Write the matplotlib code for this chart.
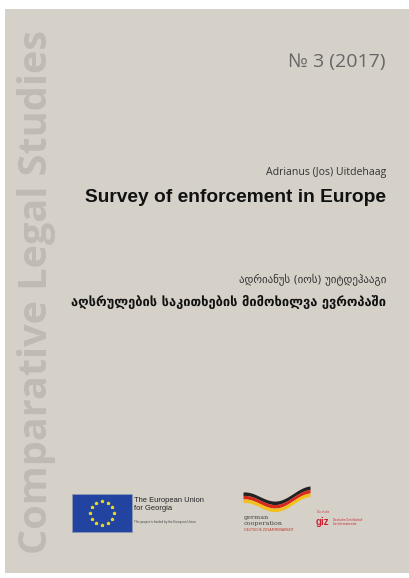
import numpy as np
import matplotlib
matplotlib.use('Agg')
import matplotlib.pyplot as plt
from matplotlib.patches import Rectangle

# Cover texts
series_title = 'Comparative Legal Studies'
issue_label = '№ 3 (2017)'
author_en = 'Adrianus (Jos) Uitdehaag'
title_en = 'Survey of enforcement in Europe'
author_ka = 'ადრიანუს (იოს) უიტდეჰააგი'
title_ka = 'აღსრულების საკითხების მიმოხილვა ევროპაში'
eu_lines = ['The European Union', 'for Georgia']
eu_small = 'This project is funded by the European Union'
german_lines = ['german', 'cooperation']
german_small = 'DEUTSCHE ZUSAMMENARBEIT'
giz_label = 'giz'
giz_small = ['Deutsche Gesellschaft', 'für Internationale', 'Zusammenarbeit (GIZ) GmbH']

page_bg = '#d5d1c9'
spine_text = '#bfbbb3'

fig = plt.figure(figsize=(4.09, 5.78), dpi=100)
fig.patch.set_facecolor('white')
ax = fig.add_axes([0, 0, 1, 1])
ax.set_xlim(0, 409)
ax.set_ylim(578, 0)
ax.axis('off')

# page
ax.add_patch(Rectangle((5, 9), 404, 564, facecolor=page_bg, edgecolor='none'))

# vertical series title
ax.text(37, 292, series_title, rotation=90, ha='center', va='center',
        fontsize=28.5, fontweight='bold', family='Open Sans', color=spine_text)

# right side titles
ax.text(386, 62, issue_label, ha='right', va='center', fontsize=14,
        family=['Open Sans', 'DejaVu Sans'], color='#666666')
ax.text(386, 172, author_en, ha='right', va='center', fontsize=7.6,
        family='Open Sans', color='#333333')
ax.text(386, 197, title_en, ha='right', va='center', fontsize=13.8,
        fontweight='bold', family='Liberation Sans', color='#111111')
ax.text(386, 280, author_ka, ha='right', va='center', fontsize=7.8,
        family='DejaVu Sans', color='#333333')
ax.text(386, 302, title_ka, ha='right', va='center', fontsize=9.3,
        fontweight='bold', family='DejaVu Sans', color='#111111')

# EU flag
ax.add_patch(Rectangle((72, 494), 60, 38, facecolor='#2244a0', edgecolor='#8d97b5', lw=0.6))
ang = np.linspace(0, 2 * np.pi, 12, endpoint=False)
ax.scatter(102 + 12 * np.cos(ang), 513 + 12 * np.sin(ang), s=3, marker='*',
           color='#e8d820', zorder=3)
for i, line in enumerate(eu_lines):
    ax.text(134, 500 + i * 9, line, ha='left', va='center', fontsize=5.4,
            family='Liberation Sans', color='#222222')
ax.text(134, 522, eu_small, ha='left', va='center', fontsize=2.2,
        family='Liberation Sans', color='#444444')

# german cooperation wave
t = np.linspace(0, 1, 100)
xw = 243 + 67 * t
yc = 497 + 12 * np.sin(np.pi * t) ** 2 - 6 * t
for k, col in enumerate(['#222222', '#d62a1e', '#f2c21a']):
    top = yc - 5 + k * 3.5
    ax.fill_between(xw, top, top + 3.5, color=col, lw=0)
for i, line in enumerate(german_lines):
    ax.text(244, 517 + i * 6, line, ha='left', va='center', fontsize=4.6,
            family='DejaVu Serif', color='#444444')
ax.text(244, 530, german_small, ha='left', va='center', fontsize=2.3,
        family='DejaVu Sans', color='#c0392b')

# giz
ax.text(316, 522, giz_label, ha='left', va='center', fontsize=7,
        fontweight='bold', family='Liberation Sans', color='#c8202f')
ax.text(317, 512, 'Durch die', ha='left', va='center', fontsize=1.8,
        family='DejaVu Sans', color='#c8202f')
for i, line in enumerate(giz_small[:2]):
    ax.text(333, 520 + i * 4, line, ha='left', va='center', fontsize=1.9,
            family='DejaVu Sans', color='#c8202f')

fig.savefig('out.png', dpi=100, facecolor='white')
